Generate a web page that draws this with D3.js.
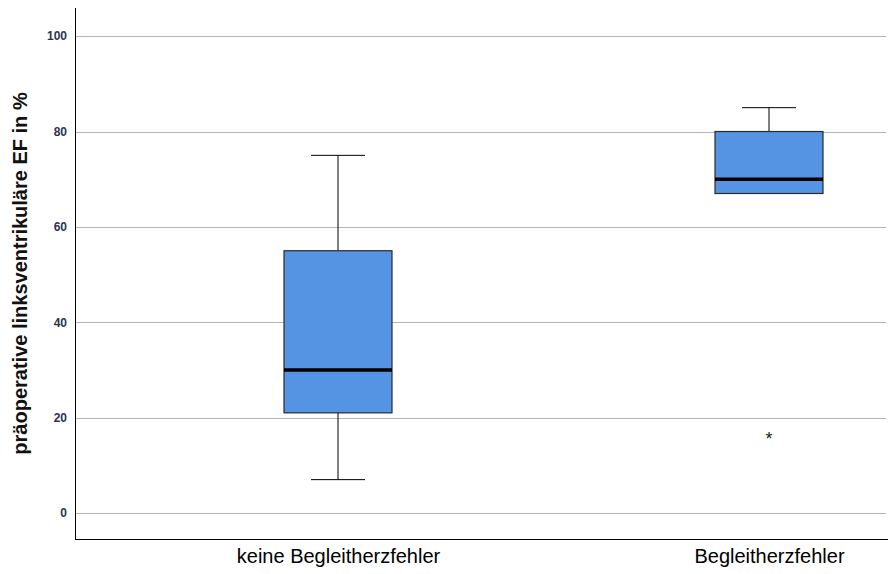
<!DOCTYPE html>
<html>
<head>
<meta charset="utf-8">
<script src="https://cdn.jsdelivr.net/npm/d3@7"></script>
<style>
  html, body { margin: 0; padding: 0; background: #fff; }
  svg { display: block; font-family: "Liberation Sans", Arial, sans-serif; }
</style>
</head>
<body>
<svg id="chart" width="888" height="574"></svg>
<script>
// Group labels and five-number summaries (EF in %)
const categories = ["keine Begleitherzfehler", "Begleitherzfehler"];
const whiskerLow = [7, 67];
const q1 = [21, 67];
const median = [30, 70];
const q3 = [55, 80];
const whiskerHigh = [75, 85];
// Extreme values drawn as stars
const outlierGroup = ["Begleitherzfehler"];
const outlierValue = [16];
const yTicks = [0, 20, 40, 60, 80, 100];
const yTitle = "präoperative linksventrikuläre EF in %";

const svg = d3.select("#chart");
const plotLeft = 75, plotRight = 886, plotTop = 8, plotBottom = 539;

const y = d3.scaleLinear().domain([-5.45, 105.9]).range([plotBottom, plotTop]);
const x = d3.scalePoint().domain(categories).range([338, 769]);
const boxW = 108;

// horizontal grid lines
svg.append("g").selectAll("line").data(yTicks).join("line")
  .attr("x1", plotLeft).attr("x2", plotRight)
  .attr("y1", d => Math.round(y(d)) + 0.5).attr("y2", d => Math.round(y(d)) + 0.5)
  .attr("stroke", "#b4b4b4").attr("stroke-width", 1);

// y axis
const yAxis = svg.append("g").attr("transform", `translate(${plotLeft},0)`)
  .call(d3.axisLeft(y).tickValues(yTicks).tickSize(0).tickPadding(8));
yAxis.select(".domain").remove();
yAxis.selectAll("text").attr("font-size", 12).attr("font-weight", "bold")
  .attr("fill", "#2a3550").attr("font-family", "'Liberation Sans', Arial, sans-serif");

// axis frame lines
svg.append("line").attr("x1", plotLeft + 0.5).attr("x2", plotLeft + 0.5)
  .attr("y1", plotTop).attr("y2", plotBottom + 0.5).attr("stroke", "#000").attr("stroke-width", 1);
svg.append("line").attr("x1", plotLeft).attr("x2", 888)
  .attr("y1", plotBottom + 0.5).attr("y2", plotBottom + 0.5).attr("stroke", "#000").attr("stroke-width", 1);

// x category labels
const xAxis = svg.append("g").attr("transform", `translate(0,${plotBottom})`)
  .call(d3.axisBottom(x).tickSize(0).tickPadding(10));
xAxis.select(".domain").remove();
xAxis.selectAll("text").attr("font-size", 20).attr("fill", "#000")
  .attr("font-family", "'Liberation Sans', Arial, sans-serif");

// boxes
const rows = categories.map((c, i) => ({
  c, lo: whiskerLow[i], q1: q1[i], med: median[i], q3: q3[i], hi: whiskerHigh[i]
}));
const g = svg.append("g").selectAll("g").data(rows).join("g")
  .attr("transform", d => `translate(${x(d.c)},0)`);

// whisker stems
g.append("line").attr("x1", 0).attr("x2", 0)
  .attr("y1", d => y(d.hi)).attr("y2", d => y(d.q3)).attr("stroke", "#000");
g.append("line").attr("x1", 0).attr("x2", 0)
  .attr("y1", d => y(d.q1)).attr("y2", d => y(d.lo)).attr("stroke", "#000");
// caps
g.append("line").attr("x1", -boxW / 4).attr("x2", boxW / 4)
  .attr("y1", d => y(d.hi)).attr("y2", d => y(d.hi)).attr("stroke", "#000");
g.append("line").attr("x1", -boxW / 4).attr("x2", boxW / 4)
  .attr("y1", d => y(d.lo)).attr("y2", d => y(d.lo)).attr("stroke", "#000");
// box body
g.append("rect").attr("x", -boxW / 2).attr("width", boxW)
  .attr("y", d => y(d.q3)).attr("height", d => y(d.q1) - y(d.q3))
  .attr("fill", "#5594e3").attr("stroke", "#2b2b2b").attr("stroke-width", 1.2);
// median
g.append("line").attr("x1", -boxW / 2).attr("x2", boxW / 2)
  .attr("y1", d => y(d.med)).attr("y2", d => y(d.med))
  .attr("stroke", "#000").attr("stroke-width", 3.5);

// extreme values
svg.append("g").selectAll("text").data(outlierValue).join("text")
  .attr("x", (d, i) => x(outlierGroup[i]))
  .attr("y", d => y(d) + 8)
  .attr("text-anchor", "middle").attr("font-size", 18).attr("fill", "#222")
  .text("*");

// y title
svg.append("text")
  .attr("transform", `translate(27,${(plotTop + plotBottom) / 2}) rotate(-90)`)
  .attr("text-anchor", "middle").attr("font-size", 20).attr("font-weight", "bold")
  .attr("fill", "#111").text(yTitle);
</script>
</body>
</html>
